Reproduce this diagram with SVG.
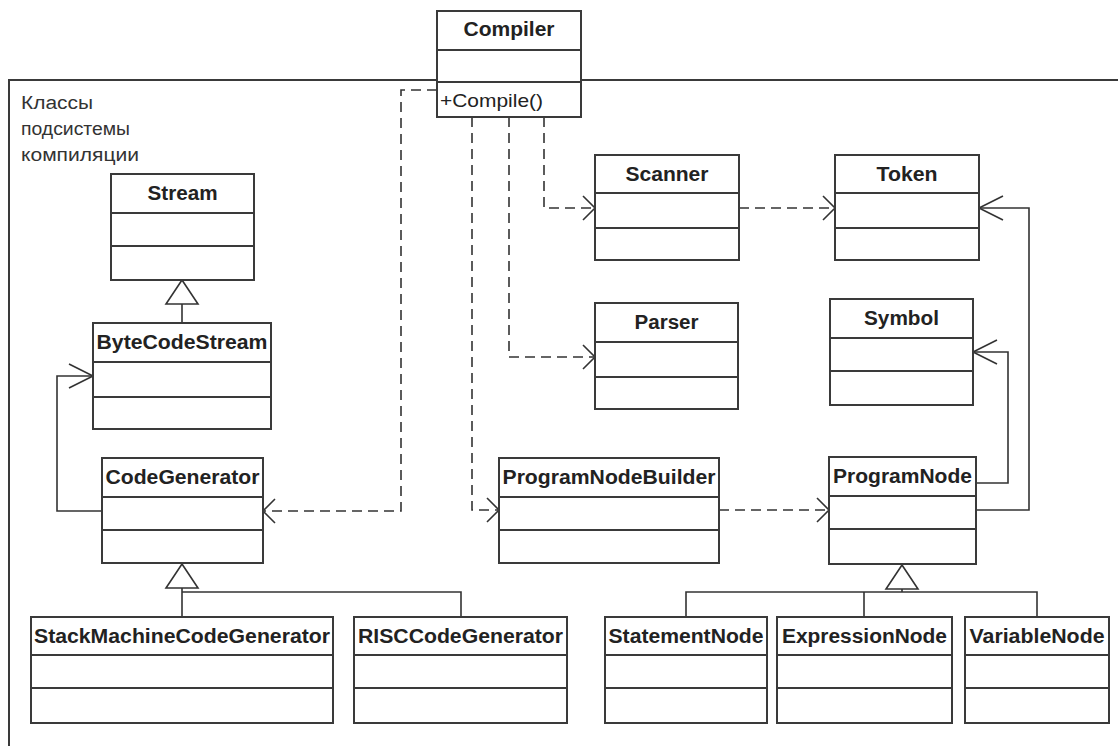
<svg xmlns="http://www.w3.org/2000/svg" width="1118" height="746" viewBox="0 0 1118 746">
<style>
.box{fill:#fff;stroke:#3a3a3a;stroke-width:2}
.sep{stroke:#3a3a3a;stroke-width:2}
.name{font-family:"Liberation Sans",Arial,sans-serif;font-weight:bold;font-size:20px;fill:#222;text-anchor:middle}
.op{font-family:"Liberation Sans",Arial,sans-serif;font-size:19px;fill:#222}
.lbl{font-family:"Liberation Sans",Arial,sans-serif;font-size:18px;fill:#333}
.dep{fill:none;stroke:#333;stroke-width:1.6;stroke-dasharray:10 6;marker-end:url(#open)}
.assoc{fill:none;stroke:#333;stroke-width:1.6;marker-end:url(#openLong)}
.gen{fill:none;stroke:#333;stroke-width:1.6}
.tri{fill:#fff;stroke:#333;stroke-width:1.6}
</style>
<defs>
<marker id="open" markerUnits="userSpaceOnUse" viewBox="-16 -16 20 32" markerWidth="20" markerHeight="32" refX="0" refY="0" orient="auto">
<path d="M-12,-12 L0,0 L-12,12" fill="none" stroke="#333" stroke-width="1.6"/>
</marker>
<marker id="openLong" markerUnits="userSpaceOnUse" viewBox="-28 -16 32 32" markerWidth="32" markerHeight="32" refX="0" refY="0" orient="auto">
<path d="M-24,-12 L0,0 L-24,12" fill="none" stroke="#333" stroke-width="1.6"/>
</marker>
</defs>

<g id="frame">
<path d="M1118,80 H9 V746" fill="none" stroke="#3a3a3a" stroke-width="2"/>
<text class="lbl" x="21" y="109" textLength="72" lengthAdjust="spacingAndGlyphs">Классы</text>
<text class="lbl" x="21" y="135" textLength="109" lengthAdjust="spacingAndGlyphs">подсистемы</text>
<text class="lbl" x="21" y="161" textLength="118" lengthAdjust="spacingAndGlyphs">компиляции</text>
</g>

<g id="connectors">
<path class="dep" d="M437,90 H401 V511 H263"/>
<path class="dep" d="M544,117 V208 H595"/>
<path class="dep" d="M509,117 V357 H595"/>
<path class="dep" d="M472,117 V510 H499"/>
<path class="dep" d="M739,208 H835"/>
<path class="dep" d="M719,510 H829"/>
<path class="assoc" d="M102,511 H57 V376 H93"/>
<path class="assoc" d="M976,483 H1008 V352 H973"/>
<path class="assoc" d="M976,510 H1029 V208 H979"/>
<path class="gen" d="M182,304 V323"/>
<polygon class="tri" points="182,280 166,304 198,304"/>
<path class="gen" d="M182,588 V617 M182,592 H461 V617"/>
<polygon class="tri" points="182,564 166,588 198,588"/>
<path class="gen" d="M902,589 V592 M686,617 V592 H1037 V617 M864,592 V617"/>
<polygon class="tri" points="902,565 886,589 918,589"/>
</g>

<g id="Compiler">
<rect class="box" x="437" y="11" width="144" height="106"/>
<path class="sep" d="M437,50 H581 M437,82 H581"/>
<text class="name" x="509" y="36" textLength="91" lengthAdjust="spacingAndGlyphs">Compiler</text>
<text class="op" x="440" y="107" textLength="103" lengthAdjust="spacingAndGlyphs">+Compile()</text>
</g>

<g id="Stream">
<rect class="box" x="111" y="174" width="143" height="106"/>
<path class="sep" d="M111,213 H254 M111,246 H254"/>
<text class="name" x="182.5" y="200" textLength="70" lengthAdjust="spacingAndGlyphs">Stream</text>
</g>

<g id="ByteCodeStream">
<rect class="box" x="93" y="323" width="178" height="106"/>
<path class="sep" d="M93,362 H271 M93,397 H271"/>
<text class="name" x="182" y="349" textLength="171" lengthAdjust="spacingAndGlyphs">ByteCodeStream</text>
</g>

<g id="CodeGenerator">
<rect class="box" x="102" y="458" width="161" height="105"/>
<path class="sep" d="M102,497 H263 M102,530 H263"/>
<text class="name" x="182.5" y="484" textLength="154" lengthAdjust="spacingAndGlyphs">CodeGenerator</text>
</g>

<g id="StackMachineCodeGenerator">
<rect class="box" x="31" y="617" width="302" height="106"/>
<path class="sep" d="M31,655 H333 M31,688 H333"/>
<text class="name" x="182" y="643" textLength="296" lengthAdjust="spacingAndGlyphs">StackMachineCodeGenerator</text>
</g>

<g id="RISCCodeGenerator">
<rect class="box" x="354" y="617" width="213" height="106"/>
<path class="sep" d="M354,655 H567 M354,688 H567"/>
<text class="name" x="460.5" y="643" textLength="205" lengthAdjust="spacingAndGlyphs">RISCCodeGenerator</text>
</g>

<g id="Scanner">
<rect class="box" x="595" y="155" width="144" height="105"/>
<path class="sep" d="M595,193 H739 M595,228 H739"/>
<text class="name" x="667" y="181" textLength="83" lengthAdjust="spacingAndGlyphs">Scanner</text>
</g>

<g id="Token">
<rect class="box" x="835" y="155" width="144" height="105"/>
<path class="sep" d="M835,193 H979 M835,228 H979"/>
<text class="name" x="907" y="181" textLength="61" lengthAdjust="spacingAndGlyphs">Token</text>
</g>

<g id="Parser">
<rect class="box" x="595" y="303" width="143" height="106"/>
<path class="sep" d="M595,342 H738 M595,377 H738"/>
<text class="name" x="666.5" y="329" textLength="64" lengthAdjust="spacingAndGlyphs">Parser</text>
</g>

<g id="Symbol">
<rect class="box" x="830" y="299" width="143" height="106"/>
<path class="sep" d="M830,338 H973 M830,371 H973"/>
<text class="name" x="901.5" y="325" textLength="75" lengthAdjust="spacingAndGlyphs">Symbol</text>
</g>

<g id="ProgramNodeBuilder">
<rect class="box" x="499" y="458" width="220" height="105"/>
<path class="sep" d="M499,497 H719 M499,530 H719"/>
<text class="name" x="609" y="484" textLength="213" lengthAdjust="spacingAndGlyphs">ProgramNodeBuilder</text>
</g>

<g id="ProgramNode">
<rect class="box" x="829" y="457" width="147" height="107"/>
<path class="sep" d="M829,496 H976 M829,529 H976"/>
<text class="name" x="902.5" y="483" textLength="139" lengthAdjust="spacingAndGlyphs">ProgramNode</text>
</g>

<g id="StatementNode">
<rect class="box" x="605" y="617" width="162" height="106"/>
<path class="sep" d="M605,655 H767 M605,688 H767"/>
<text class="name" x="686" y="643" textLength="155" lengthAdjust="spacingAndGlyphs">StatementNode</text>
</g>

<g id="ExpressionNode">
<rect class="box" x="777" y="617" width="175" height="106"/>
<path class="sep" d="M777,655 H952 M777,688 H952"/>
<text class="name" x="864.5" y="643" textLength="165" lengthAdjust="spacingAndGlyphs">ExpressionNode</text>
</g>

<g id="VariableNode">
<rect class="box" x="965" y="617" width="144" height="106"/>
<path class="sep" d="M965,655 H1109 M965,688 H1109"/>
<text class="name" x="1037" y="643" textLength="135" lengthAdjust="spacingAndGlyphs">VariableNode</text>
</g>
</svg>
